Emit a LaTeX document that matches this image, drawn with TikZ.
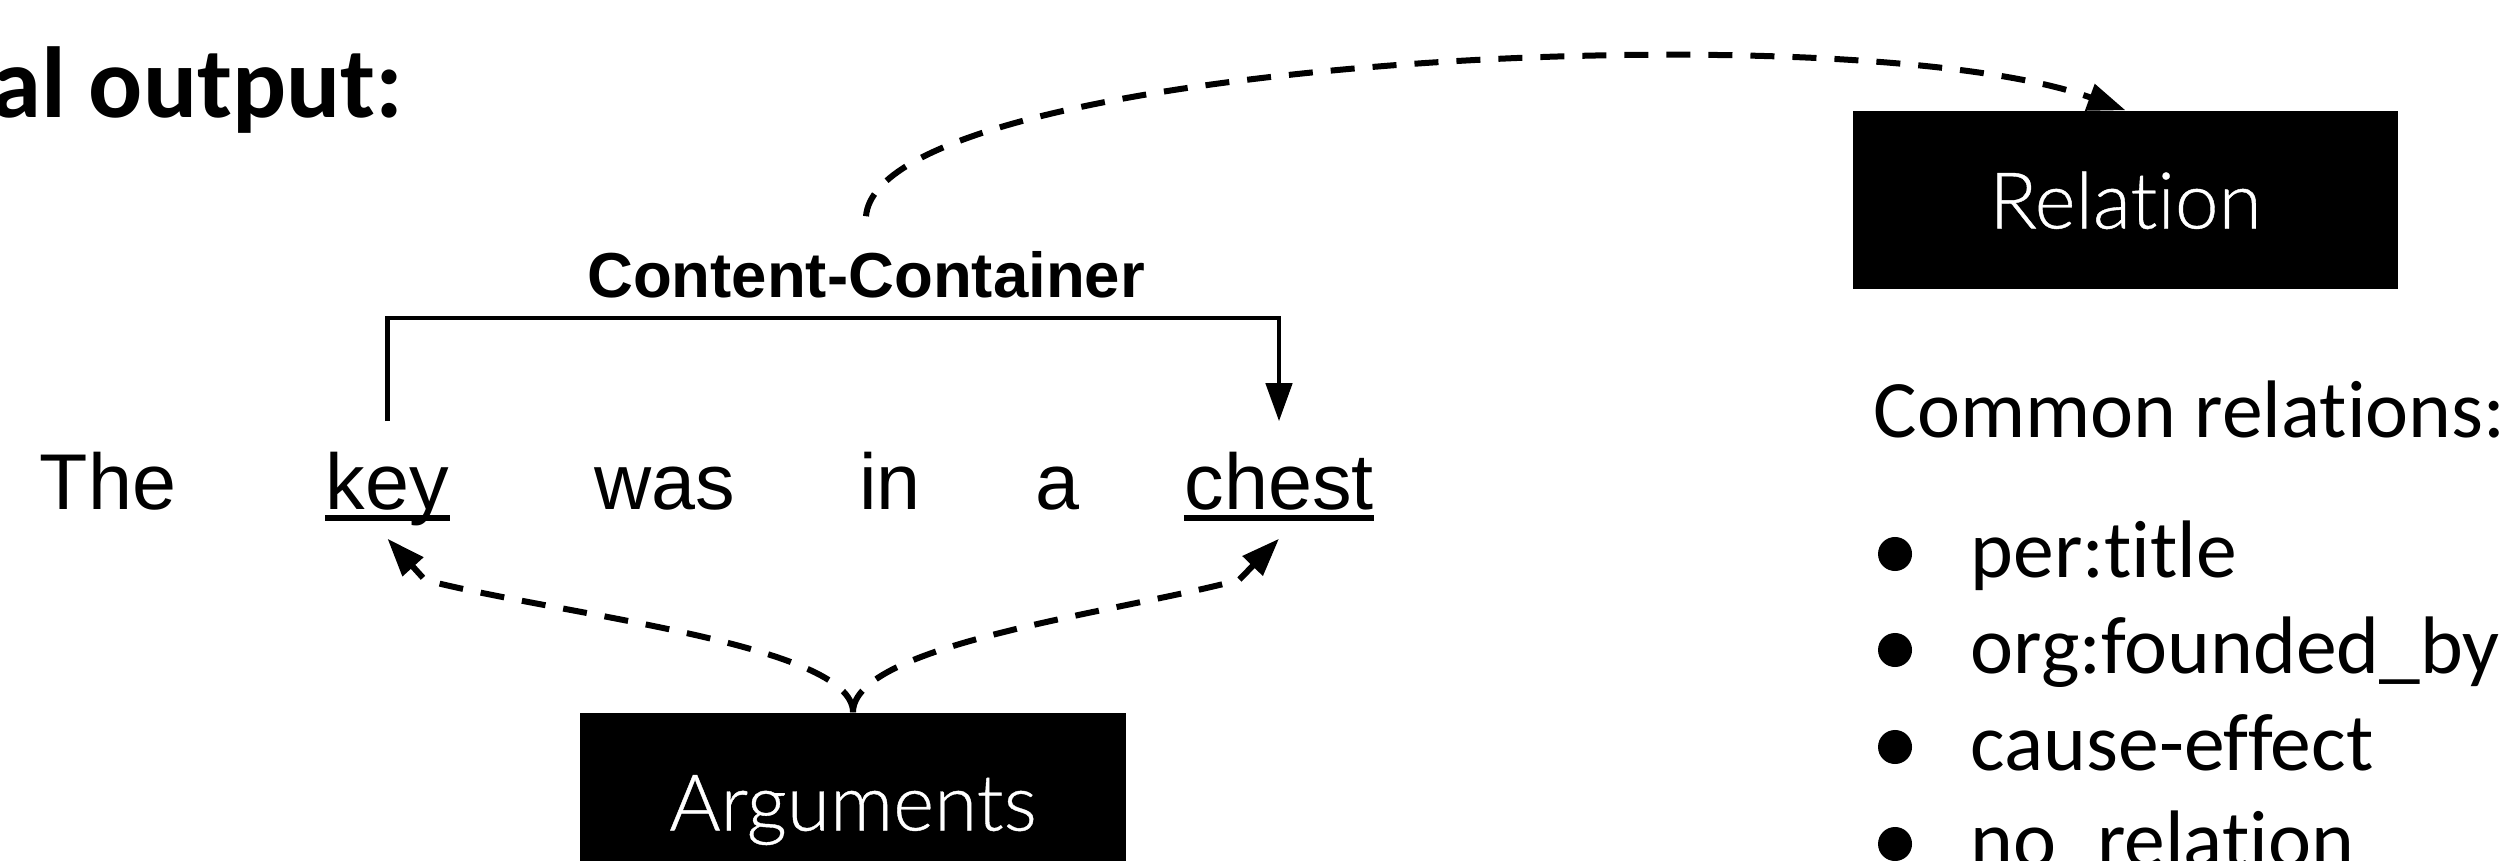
\documentclass[tikz,border=0pt]{standalone}
\usepackage{fontspec}
\usetikzlibrary{arrows.meta}
\newfontfamily\arialfont{Liberation Sans}
\newfontfamily\calfont{Carlito}[Ligatures=NoCommon]
\IfFontExistsTF{Lato Light}{\newfontfamily\boxfont{Lato Light}[FakeBold=0.5,Ligatures=NoCommon]}{\newfontfamily\boxfont{Lato}[Ligatures=NoCommon]}
\begin{document}
\begin{tikzpicture}[x=0.01cm,y=-0.01cm,
  word/.style={font=\arialfont\fontsize{22.5}{27}\selectfont, inner sep=0pt, text height=0.57cm, text depth=0.17cm, anchor=base},
  blackbox/.style={fill=black, text=white, minimum width=5.45cm, minimum height=1.78cm, inner sep=0pt, font=\boxfont\fontsize{22.3}{26}\selectfont, text height=0.57cm, text depth=0pt},
  dashline/.style={line width=0.06cm, dash pattern=on 0.24cm off 0.18cm, -{Triangle[length=0.38cm,width=0.27cm]}},
  bracketline/.style={line width=0.045cm, -{Triangle[length=0.38cm,width=0.26cm]}},
  underl/.style={line width=0.06cm},
  listtext/.style={font=\calfont\fontsize{23.2}{27}\selectfont, inner sep=0pt, anchor=base west},
  bulletdot/.style={circle, fill=black, minimum size=0.34cm, inner sep=0pt}
]
\path[use as bounding box, clip] (0,0) rectangle (2519,861);

% title (cut at the left edge)
\node[anchor=base east, inner sep=0pt, font=\calfont\bfseries\fontsize{28.7}{33}\selectfont] (title) at (404,118) {al output:};

% relation label above the sentence
\node[anchor=base, inner sep=0pt, font=\arialfont\bfseries\fontsize{18.07}{22}\selectfont] (cc) at (866,298) {Content-Container};

% sentence
\node[word] (w1) at (108,509) {The};
\node[word] (key) at (387.5,509) {key};
\node[word] (w3) at (665,509) {was};
\node[word] (w4) at (890,509) {in};
\node[word] (w5) at (1057,509) {a};
\node[word] (chest) at (1279,509) {chest};
\draw[underl] ([yshift=-0.085cm]key.base west) -- ([yshift=-0.085cm]key.base east);
\draw[underl] ([yshift=-0.085cm]chest.base west) -- ([yshift=-0.085cm]chest.base east);

% boxes
\node[blackbox] (rel) at (2125.5,200) {Relation};
\node[blackbox] (arg) at (853,802) {Arguments};

% bracket
\draw[bracketline] ([yshift=0.3cm]key.north) -- ++(0,-103) -| ([yshift=0.3cm]chest.north);

% argument connectors
\coordinate (kb) at (425,580);
\coordinate (cb) at (1239,580);
\draw[dashline] (arg.north) .. controls +(0,-68) and (560,615) .. (kb) -- ([yshift=-0.12cm]key.south);
\draw[dashline] (arg.north) .. controls +(0,-68) and (1120,612) .. (cb) -- ([yshift=-0.12cm]chest.south);

% relation connector
\draw[dashline] ([yshift=0.35cm]cc.north) .. controls +(13,-157) and +(-275,-100) .. (rel.north);

% list of relations
\node[listtext] (hdr) at (1873,437) {Common relations:};
\node[bulletdot] (b1) at (1895,554) {};
\node[listtext] (i1) at (1970,577) {per:title};
\node[bulletdot] (b2) at (1895,650) {};
\node[listtext] (i2) at (1970,673) {org:founded\_by};
\node[bulletdot] (b3) at (1895,747) {};
\node[listtext] (i3) at (1970,770) {cause-effect};
\node[bulletdot] (b4) at (1895,844) {};
\node[listtext] (i4) at (1970,867) {no\_relation};
\end{tikzpicture}
\end{document}
